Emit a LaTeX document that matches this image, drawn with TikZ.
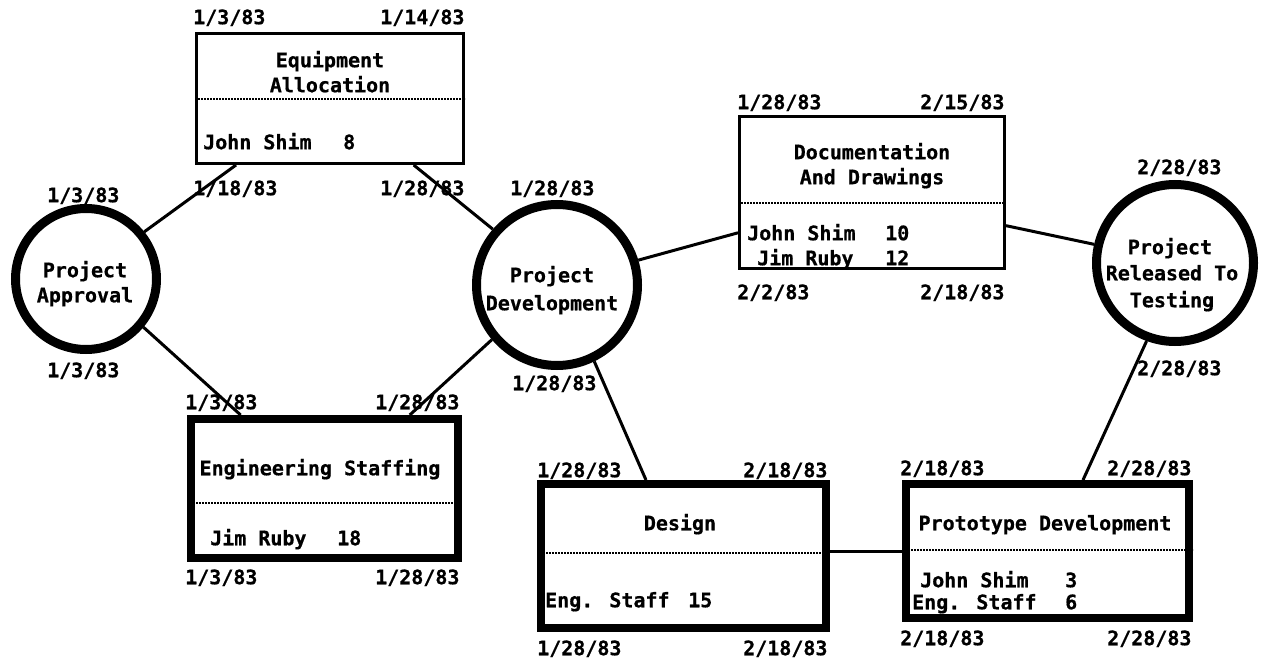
\documentclass[tikz,border=0pt]{standalone}
\usepackage{fontspec}
\newfontfamily\plotfont{DejaVu Sans Mono}[BoldFeatures={FakeBold=0.6}]
\usetikzlibrary{calc}
\begin{document}
\begin{tikzpicture}[x=1pt,y=-1pt,
  txt/.style={font=\plotfont\bfseries\fontsize{20}{22}\selectfont, inner sep=0pt, text height=14.5pt, text depth=0pt},
  dt/.style={txt, anchor=west},
  evt/.style={circle, draw, line width=9pt, inner sep=0pt},
  thinbox/.style={rectangle, draw, line width=3pt, inner sep=0pt},
  thickbox/.style={rectangle, draw, line width=8pt, inner sep=0pt},
  link/.style={line width=3pt},
  sepline/.style={line width=1.8pt, dash pattern=on 1.6pt off 1.4pt}]
\useasboundingbox (0,0) rectangle (1267,663);

% events (circles)
\node[evt, minimum size=141pt] (app) at (86,279) {};
\node[evt, minimum size=161pt] (dev) at (557,285) {};
\node[evt, minimum size=157pt] (rel) at (1175,263) {};

% activities (boxes)
\node[thinbox, minimum width=267pt, minimum height=130pt] (eq) at (330,98.5) {};
\node[thinbox, minimum width=265pt, minimum height=152pt] (doc) at (872,192.5) {};
\node[thickbox, minimum width=267pt, minimum height=139pt] (eng) at (324.5,488.5) {};
\node[thickbox, minimum width=285pt, minimum height=144pt] (des) at (683.5,556) {};
\node[thickbox, minimum width=283pt, minimum height=134pt] (pro) at (1047.5,551) {};

% dotted separators
\coordinate (s1) at (0,99);
\coordinate (s2) at (0,203);
\coordinate (s3) at (0,503);
\coordinate (s4) at (0,553);
\coordinate (s5) at (0,550);
\draw[sepline] (eq.west |- s1) -- (eq.east |- s1);
\draw[sepline] (doc.west |- s2) -- (doc.east |- s2);
\draw[sepline] (eng.west |- s3) -- (eng.east |- s3);
\draw[sepline] (des.west |- s4) -- (des.east |- s4);
\draw[sepline] (pro.west |- s5) -- (pro.east |- s5);

% connectors
\draw[link] (app.39) -- ($(eq.south west)!0.152!(eq.south east)$);
\draw[link] ($(eq.south west)!0.81!(eq.south east)$) -- (dev.139);
\draw[link] (app.-40) -- ($(eng.north west)!0.195!(eng.north east)$);
\draw[link] ($(eng.north west)!0.81!(eng.north east)$) -- (dev.220);
\draw[link] (dev.17) -- ($(doc.north west)!0.76!(doc.south west)$);
\draw[link] ($(doc.north east)!0.714!(doc.south east)$) -- (rel.167);
\draw[link] (dev.-64) -- ($(des.north west)!0.372!(des.north east)$);
\draw[link] (pro.west -| des.east) -- (pro.west);
\draw[link] ($(pro.north west)!0.622!(pro.north east)$) -- (rel.250);

% circle texts
\node[txt] (appA) at (85,270) {Project};
\node[txt] (appB) at (85,295) {Approval};
\node[txt] (devA) at (552,275) {Project};
\node[txt] (devB) at (552,303) {Development};
\node[txt] (relA) at (1170,247) {Project};
\node[txt] (relB) at (1172,273) {Released To};
\node[txt] (relC) at (1172,300) {Testing};

% box texts
\node[txt] (eqA) at (330,60) {Equipment};
\node[txt] (eqB) at (330,85) {Allocation};
\node[dt] (eqC) at (203,142) {John Shim};
\node[dt] (eqD) at (343,142) {8};

\node[txt] (docA) at (872,152) {Documentation};
\node[txt] (docB) at (872,177) {And Drawings};
\node[dt] (docC) at (747,233) {John Shim};
\node[dt] (docD) at (885,233) {10};
\node[dt] (docE) at (757,258) {Jim Ruby};
\node[dt] (docF) at (885,258) {12};

\node[txt] (engA) at (320,468) {Engineering Staffing};
\node[dt] (engB) at (210,538) {Jim Ruby};
\node[dt] (engC) at (337,538) {18};

\node[txt] (desA) at (680,523) {Design};
\node[dt] (desB) at (545,600) {Eng. Staff};
\node[dt] (desC) at (688,600) {15};

\node[txt] (proA) at (1045,523) {Prototype Development};
\node[dt] (proB) at (920,580) {John Shim};
\node[dt] (proC) at (1065,580) {3};
\node[dt] (proD) at (912,602) {Eng. Staff};
\node[dt] (proE) at (1065,602) {6};

% dates
\node[dt] (d1) at (193,17) {1/3/83};
\node[dt] (d2) at (380,17) {1/14/83};
\node[dt] (d3) at (193,188) {1/18/83};
\node[dt] (d4) at (380,188) {1/28/83};
\node[dt] (d5) at (47,195) {1/3/83};
\node[dt] (d6) at (47,370) {1/3/83};
\node[dt] (d7) at (185,402) {1/3/83};
\node[dt] (d8) at (375,402) {1/28/83};
\node[dt] (d9) at (185,577) {1/3/83};
\node[dt] (d10) at (375,577) {1/28/83};
\node[dt] (d11) at (510,188) {1/28/83};
\node[dt] (d12) at (512,383) {1/28/83};
\node[dt] (d13) at (737,102) {1/28/83};
\node[dt] (d14) at (920,102) {2/15/83};
\node[dt] (d15) at (737,292) {2/2/83};
\node[dt] (d16) at (920,292) {2/18/83};
\node[dt] (d17) at (1137,167) {2/28/83};
\node[dt] (d18) at (1137,368) {2/28/83};
\node[dt] (d19) at (537,470) {1/28/83};
\node[dt] (d20) at (743,470) {2/18/83};
\node[dt] (d21) at (537,648) {1/28/83};
\node[dt] (d22) at (743,648) {2/18/83};
\node[dt] (d23) at (900,468) {2/18/83};
\node[dt] (d24) at (1107,468) {2/28/83};
\node[dt] (d25) at (900,638) {2/18/83};
\node[dt] (d26) at (1107,638) {2/28/83};
\end{tikzpicture}
\end{document}
